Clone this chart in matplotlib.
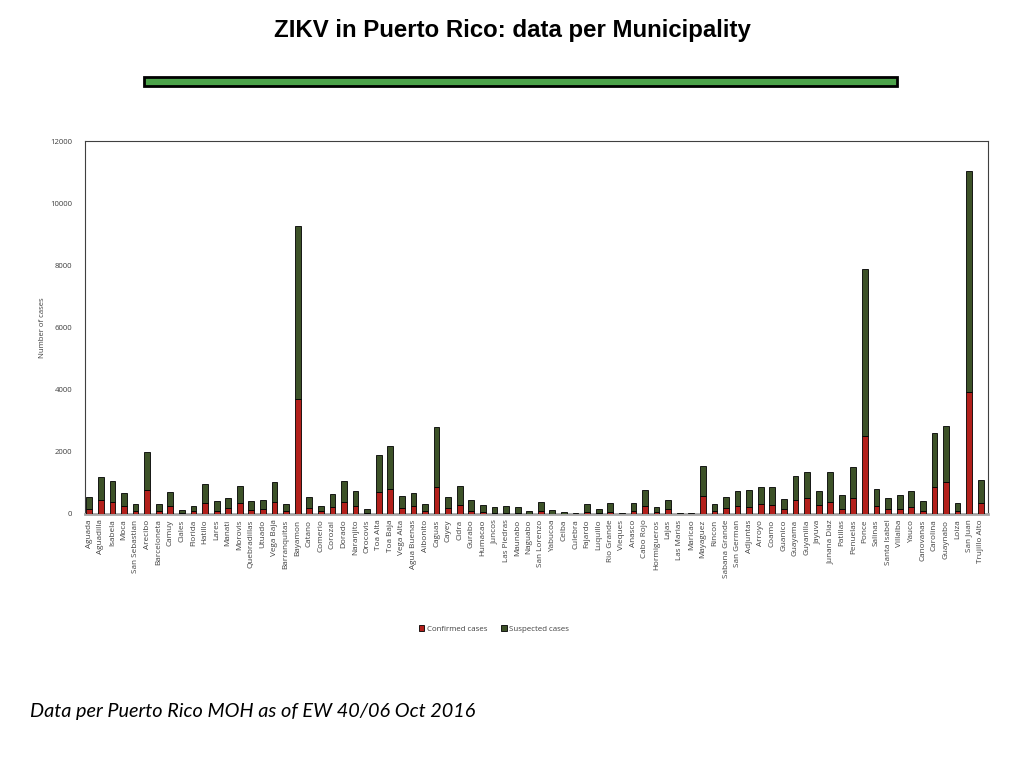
import matplotlib
matplotlib.use("Agg")
import matplotlib.pyplot as plt
from matplotlib.patches import Rectangle
import numpy as np

municipalities = [
    "Aguada", "Aguadilla", "Isabela", "Moca", "San Sebastian", "Arecibo", "Barceloneta",
    "Camuy", "Ciales", "Florida", "Hatillo", "Lares", "Manati", "Morovis", "Quebradillas",
    "Utuado", "Vega Baja", "Barranquitas", "Bayamon", "Catano", "Comerio", "Corozal",
    "Dorado", "Naranjito", "Orocovis", "Toa Alta", "Toa Baja", "Vega Alta", "Agua Buenas",
    "Aibonito", "Caguas", "Cayey", "Cidra", "Gurabo", "Humacao", "Juncos", "Las Piedras",
    "Maunabo", "Naguabo", "San Lorenzo", "Yabucoa", "Ceiba", "Culebra", "Fajardo",
    "Luquillo", "Rio Grande", "Vieques", "Anasco", "Cabo Rojo", "Hormigueros", "Lajas",
    "Las Marias", "Maricao", "Mayaguez", "Rincon", "Sabana Grande", "San German",
    "Adjuntas", "Arroyo", "Coamo", "Guanico", "Guayama", "Guyanilla", "Jayuva",
    "Junana Diaz", "Patillas", "Penuelas", "Ponce", "Salinas", "Santa Isabel", "Villalba",
    "Yauco", "Canovanas", "Carolina", "Guaynabo", "Loiza", "San Juan", "Trujillo Alto",
]

total_cases = [
    560, 1190, 1060, 675, 330, 1995, 310,
    718, 130, 260, 975, 405, 525, 900, 405,
    460, 1030, 330, 9280, 535, 268, 655,
    1050, 750, 172, 1888, 2200, 590, 686,
    322, 2790, 558, 912, 440, 300, 236, 268,
    215, 107, 397, 129, 75, 40, 332,
    172, 365, 43, 365, 783, 215, 460,
    30, 30, 1535, 312, 558, 750,
    783, 880, 880, 493, 1213, 1362, 750,
    1362, 622, 1523, 7880, 805, 526, 622,
    750, 430, 2617, 2843, 365, 11040, 1105,
]

confirmed_cases = [
    160, 450, 385, 260, 85, 772, 96,
    260, 20, 96, 365, 96, 193, 365, 130,
    160, 385, 96, 3700, 183, 86, 236,
    386, 268, 43, 698, 805, 204, 268,
    86, 880, 183, 300, 97, 75, 30, 40,
    20, 15, 107, 15, 10, 5, 65,
    40, 75, 5, 107, 268, 65, 172,
    5, 5, 590, 107, 204, 268,
    236, 333, 300, 172, 461, 526, 300,
    386, 172, 526, 2520, 268, 172, 172,
    236, 107, 880, 1040, 107, 3925, 365,
]

suspected_cases = [t - c for t, c in zip(total_cases, confirmed_cases)]

y_ticks = [0, 2000, 4000, 6000, 8000, 10000, 12000]

RED = "#B3201B"
GREEN = "#3D5228"
TXT = "#404040"

fig = plt.figure(figsize=(10.24, 7.68), dpi=100)

# Title
fig.text(0.5, 1 - 30 / 768, "ZIKV in Puerto Rico: data per Municipality",
         ha="center", va="center", fontsize=17.3, fontweight="bold",
         family="Liberation Sans", color="black")

# Green divider bar
fig.patches.append(Rectangle((144 / 1024, 1 - 86 / 768), (897 - 144) / 1024, 8.5 / 768,
                             transform=fig.transFigure, facecolor="#4CA34A",
                             edgecolor="black", linewidth=2.0, zorder=5))

# Footer
fig.text(30 / 1024, 1 - 712 / 768, "Data per Puerto Rico MOH as of EW 40/06 Oct 2016",
         ha="left", va="center", fontsize=14.3, style="italic",
         family="Lato", color="black")

ax = fig.add_axes([85 / 1024, 1 - 514 / 768, (988 - 85) / 1024, (514 - 141) / 768])

x = np.arange(len(municipalities))
w = 0.5
ax.bar(x, confirmed_cases, width=w, color=RED, edgecolor="black", linewidth=0.6,
       label="Confirmed cases", zorder=3)
ax.bar(x, suspected_cases, width=w, bottom=confirmed_cases, color=GREEN,
       edgecolor="black", linewidth=0.6, label="Suspected cases", zorder=3)

ax.set_xlim(-0.37, len(municipalities) - 0.37)
ax.set_ylim(0, 12000)
ax.set_yticks(y_ticks)
ax.set_yticklabels([str(v) for v in y_ticks], fontsize=5.6, color=TXT, family="Open Sans")
ax.set_xticks(x)
ax.set_xticklabels(municipalities, rotation=90, fontsize=5.9, color=TXT, family="Open Sans")
ax.tick_params(axis="y", length=0, pad=9)
ax.tick_params(axis="x", length=0, pad=4)
ax.set_ylabel("Number of cases", fontsize=5.6, color=TXT, family="Open Sans", labelpad=3)

for side in ["left", "top", "right"]:
    ax.spines[side].set_color("#404040")
    ax.spines[side].set_linewidth(0.8)
ax.spines["bottom"].set_color("#A6A6A6")
ax.spines["bottom"].set_linewidth(2.0)

leg = fig.legend(handles=ax.get_legend_handles_labels()[0],
                 labels=["Confirmed cases", "Suspected cases"],
                 loc="center", bbox_to_anchor=(494 / 1024, 1 - 629 / 768), ncol=2,
                 frameon=False, handlelength=0.7, handleheight=0.7,
                 handletextpad=0.3, columnspacing=1.8,
                 prop={"family": "Open Sans", "size": 5.7})
for t in leg.get_texts():
    t.set_color(TXT)

fig.savefig("out.png", dpi=100, facecolor="white")
